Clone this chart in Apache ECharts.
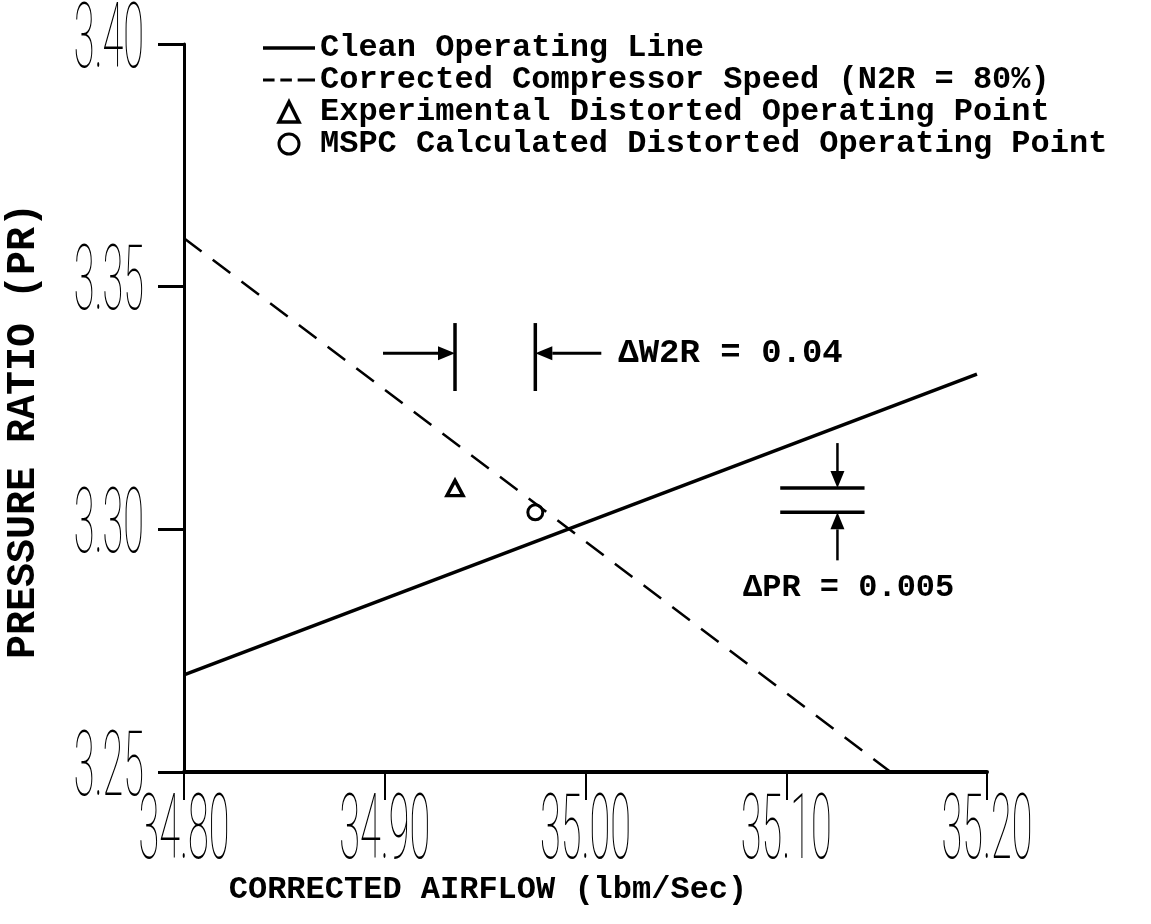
<!DOCTYPE html>
<html>
<head>
<meta charset="utf-8">
<script src="https://cdn.jsdelivr.net/npm/echarts@6/dist/echarts.min.js"></script>
<style>
  html, body { margin: 0; padding: 0; background: #fff; }
  #chart { width: 1151px; height: 924px; }
</style>
</head>
<body>
<div id="chart"></div>
<script>
// Axis ticks and their labels
const xTicks = [34.80, 34.90, 35.00, 35.10, 35.20];
const xTickLabels = ['34.80', '34.90', '35.00', '35.10', '35.20'];
const yTicks = [3.25, 3.30, 3.35, 3.40];
const yTickLabels = ['3.25', '3.30', '3.35', '3.40'];

// Clean operating line (corrected airflow, pressure ratio)
const cleanLineW2R = [34.80, 35.195];
const cleanLinePR = [3.270, 3.332];

// Constant corrected compressor speed line, N2R = 80%
const speedLineW2R = [34.80, 35.152];
const speedLinePR = [3.360, 3.250];

// Distorted operating points
const experimentalW2R = [34.935];
const experimentalPR = [3.3085];
const mspcW2R = [34.975];
const mspcPR = [3.3035];

// Differences between the two distorted points
const deltaW2R = 0.04;
const deltaPR = 0.005;

const seriesNames = [
  'Clean Operating Line',
  'Corrected Compressor Speed (N2R = 80%)',
  'Experimental Distorted Operating Point',
  'MSPC Calculated Distorted Operating Point'
];

const MONO = '"Liberation Mono", "DejaVu Sans Mono", monospace';
const THIN = 'Roboto, "DejaVu Sans", sans-serif';
const triPath = 'path://M5,0 L10,10 L0,10 Z';
const circPath = 'path://M10,5 A5,5 0 1 1 0,5 A5,5 0 1 1 10,5 Z';
const solidIcon = 'path://M0,0 H46 V3 H0 Z';
const dashIcon = 'path://M0,0 H12 V3 H0 Z M18,0 H30 V3 H18 Z M36,0 H54 V3 H36 Z';

const zip = (a, b) => a.map((v, i) => [v, b[i]]);

const chart = echarts.init(document.getElementById('chart'));

const option = {
  animation: false,
  backgroundColor: '#fff',
  color: ['#000'],
  grid: { left: 184, right: 164, top: 44, bottom: 152 },
  xAxis: {
    type: 'value',
    min: xTicks[0], max: xTicks[xTicks.length - 1], interval: 0.1,
    axisLine: { lineStyle: { color: '#000', width: 4 } },
    axisTick: { show: true, length: 28, lineStyle: { color: '#000', width: 2 } },
    axisLabel: { show: false },
    splitLine: { show: false }
  },
  yAxis: {
    type: 'value',
    min: yTicks[0], max: yTicks[yTicks.length - 1], interval: 0.05,
    axisLine: { show: true, lineStyle: { color: '#000', width: 3 } },
    axisTick: { show: true, length: 26, lineStyle: { color: '#000', width: 3 } },
    axisLabel: { show: false },
    splitLine: { show: false }
  },
  legend: {
    orient: 'vertical',
    left: 258, top: 27,
    itemWidth: 52, itemHeight: 20, itemGap: 0,
    symbolKeepAspect: true,
    textStyle: { fontFamily: MONO, fontSize: 32, fontWeight: 'bold', color: '#000', lineHeight: 30 },
    data: [
      { name: seriesNames[0], icon: solidIcon, itemStyle: { color: '#000', borderWidth: 0 } },
      { name: seriesNames[1], icon: dashIcon, itemStyle: { color: '#000', borderWidth: 0 } },
      { name: seriesNames[2], icon: triPath, itemStyle: { color: '#fff', borderColor: '#000', borderWidth: 3.5 } },
      { name: seriesNames[3], icon: circPath, itemStyle: { color: '#fff', borderColor: '#000', borderWidth: 3 } }
    ]
  },
  series: [
    {
      name: seriesNames[0], type: 'line', symbol: 'none',
      data: zip(cleanLineW2R, cleanLinePR),
      itemStyle: { color: '#000' },
      lineStyle: { color: '#000', width: 3.5 }
    },
    {
      name: seriesNames[1], type: 'line', symbol: 'none',
      data: zip(speedLineW2R, speedLinePR),
      itemStyle: { color: '#000' },
      lineStyle: { color: '#000', width: 2.5, type: [22, 14] }
    },
    {
      name: seriesNames[2], type: 'scatter', symbol: triPath, symbolSize: [16, 15],
      data: zip(experimentalW2R, experimentalPR),
      itemStyle: { color: '#fff', borderColor: '#000', borderWidth: 3.5, opacity: 1 }
    },
    {
      name: seriesNames[3], type: 'scatter', symbol: circPath, symbolSize: 15,
      data: zip(mspcW2R, mspcPR),
      itemStyle: { color: '#fff', borderColor: '#000', borderWidth: 3, opacity: 1 }
    }
  ]
};

chart.setOption(option);

const px = (x, y) => chart.convertToPixel({ gridIndex: 0 }, [x, y]);

function tickText(text, x, y, align) {
  return {
    type: 'text', x: x, y: y, scaleX: 0.42, scaleY: 1,
    style: {
      text: text, x: 0, y: 0, fill: '#000',
      font: '100 90px ' + THIN,
      textAlign: align, textVerticalAlign: 'middle',
      align: align, verticalAlign: 'middle'
    }
  };
}

function plainText(text, x, y, size, weight, align, rotation) {
  return {
    type: 'text', x: x, y: y, rotation: rotation || 0,
    style: {
      text: text, x: 0, y: 0, fill: '#000',
      font: weight + ' ' + size + 'px ' + MONO,
      textAlign: align, textVerticalAlign: 'middle',
      align: align, verticalAlign: 'middle'
    }
  };
}

function seg(p, q, w) {
  return {
    type: 'line',
    shape: { x1: p[0], y1: p[1], x2: q[0], y2: q[1] },
    style: { stroke: '#000', lineWidth: w }
  };
}

// arrow from tail to tip with a filled head
function arrow(tail, tip, w) {
  const dx = tip[0] - tail[0], dy = tip[1] - tail[1];
  const len = Math.hypot(dx, dy);
  const ux = dx / len, uy = dy / len;
  const hl = 17, hw = 7;
  const base = [tip[0] - ux * hl, tip[1] - uy * hl];
  return [
    seg(tail, base, w),
    {
      type: 'polygon',
      shape: { points: [tip, [base[0] - uy * hw, base[1] + ux * hw], [base[0] + uy * hw, base[1] - ux * hw]] },
      style: { fill: '#000' }
    }
  ];
}

const els = [];

// tick labels
xTicks.forEach((v, i) => {
  const p = px(v, yTicks[0]);
  els.push(tickText(xTickLabels[i], p[0], p[1] + 63, 'center'));
});
yTicks.forEach((v, i) => {
  const p = px(xTicks[0], v);
  els.push(tickText(yTickLabels[i], p[0] - 40, p[1], 'right'));
});

// axis titles
els.push(plainText('CORRECTED AIRFLOW (lbm/Sec)', 488, 890, 32, 'bold', 'center'));
els.push(plainText('PRESSURE RATIO (PR)', 24, 431, 40, 'bold', 'center', Math.PI / 2));

// airflow difference markers
const wA = experimentalW2R[0], wB = wA + deltaW2R;
const barTop = px(wA, 3.3425), barBot = px(wA, 3.3285);
const arrowY = px(wA, 3.3363)[1];
const xA = px(wA, 3.3)[0], xB = px(wB, 3.3)[0];
els.push(seg([xA, barTop[1]], [xA, barBot[1]], 3.5));
els.push(seg([xB, barTop[1]], [xB, barBot[1]], 3.5));
arrow([xA - 72, arrowY], [xA, arrowY], 3).forEach(e => els.push(e));
arrow([xB + 66, arrowY], [xB, arrowY], 3).forEach(e => els.push(e));
els.push(plainText('\u0394W2R = ' + deltaW2R.toFixed(2), xB + 83, arrowY, 34, 'bold', 'left'));

// pressure ratio difference markers
const pA = experimentalPR[0], pB = pA - deltaPR;
const lx1 = px(35.097, pA)[0], lx2 = px(35.139, pA)[0], ax = px(35.1255, pA)[0];
const yA = px(35.1, pA)[1], yB = px(35.1, pB)[1];
els.push(seg([lx1, yA], [lx2, yA], 3.5));
els.push(seg([lx1, yB], [lx2, yB], 3.5));
arrow([ax, yA - 45], [ax, yA], 2.5).forEach(e => els.push(e));
arrow([ax, yB + 48], [ax, yB], 2.5).forEach(e => els.push(e));
els.push(plainText('\u0394PR = ' + deltaPR.toFixed(3), 743, yB + 76, 32, 'bold', 'left'));

chart.setOption({ graphic: { elements: els } });
</script>
</body>
</html>
